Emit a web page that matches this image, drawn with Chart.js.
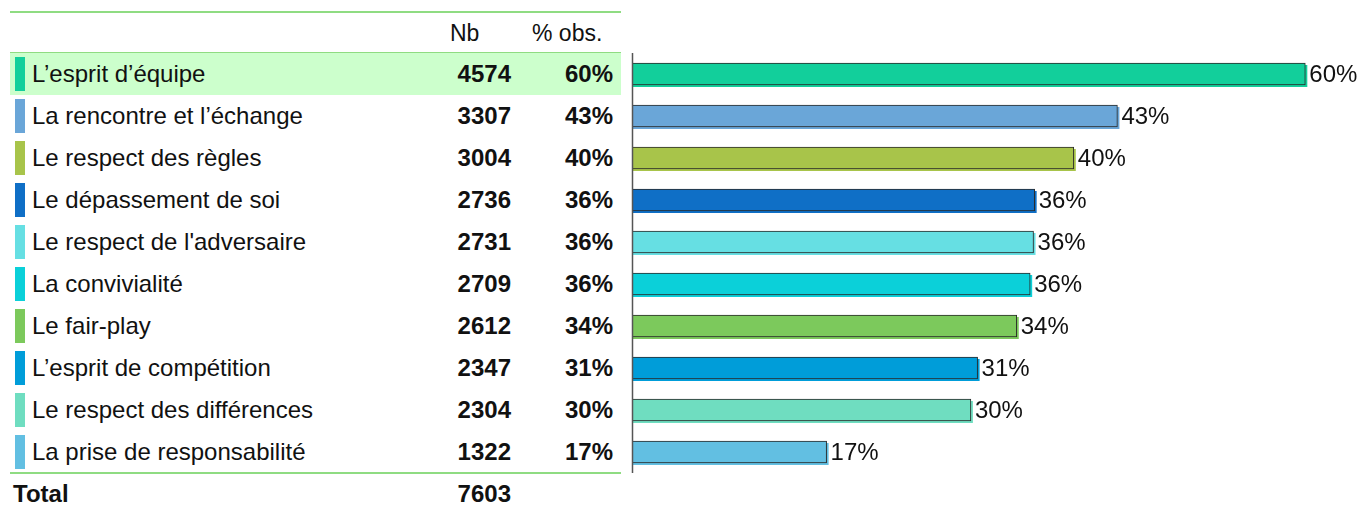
<!DOCTYPE html>
<html>
<head>
<meta charset="utf-8">
<script src="https://cdn.jsdelivr.net/npm/chart.js@4/dist/chart.umd.min.js"></script>
<style>
  html, body { margin: 0; padding: 0; background: #fff; }
  body { width: 1359px; height: 509px; position: relative; overflow: hidden;
         font-family: 'Liberation Sans', Arial, sans-serif; color: #111; }
  #chart { position: absolute; left: 0; top: 0; }
  .hline { position: absolute; left: 10px; width: 611px; height: 0; border-top: 2px solid #8fdc82; }
  .row { position: absolute; left: 10px; width: 611px; height: 42px; line-height: 42px; font-size: 24px; }
  .row.hl { background: #ccffcc; }
  .sw { position: absolute; left: 5px; top: 4px; width: 10px; height: 34px; }
  .lab { position: absolute; left: 22px; white-space: nowrap; }
  .nb { position: absolute; right: 110px; font-weight: bold; }
  .pc { position: absolute; right: 8px; font-weight: bold; }
  .head { position: absolute; font-size: 23px; top: 20px; line-height: 26px; }
</style>
</head>
<body>
<div class="hline" style="top:11px"></div>
<div class="head" style="left:450px">Nb</div>
<div class="head" style="left:532px">% obs.</div>
<div class="hline" style="top:52px"></div>
<div id="table"></div>
<div class="hline" style="top:472px"></div>
<div class="row" style="top:473px;font-weight:bold"><span style="position:absolute;left:3px">Total</span><span class="nb">7603</span></div>
<canvas id="chart" width="1359" height="509"></canvas>
<script>
// Les valeurs du sport
const categories = [
  'L\u2019esprit d\u2019équipe',
  'La rencontre et l\u2019échange',
  'Le respect des règles',
  'Le dépassement de soi',
  'Le respect de l\'adversaire',
  'La convivialité',
  'Le fair-play',
  'L\u2019esprit de compétition',
  'Le respect des différences',
  'La prise de responsabilité'
];
const counts = [4574, 3307, 3004, 2736, 2731, 2709, 2612, 2347, 2304, 1322];
const percents = [60.2, 43.4, 39.5, 36.0, 35.9, 35.6, 34.4, 30.9, 30.3, 17.4];
const colors = ['#12cf9b', '#6aa6d8', '#a8c44a', '#0f6fc6', '#66dfe3',
                '#0bd0d9', '#7cc95c', '#009dd9', '#6fddc0', '#62bfe2'];
const total = 7603;

const ROW_TOP = 53;
const ROW_H = 42;

// left table
const table = document.getElementById('table');
categories.forEach((c, i) => {
  const row = document.createElement('div');
  row.className = 'row' + (i === 0 ? ' hl' : '');
  row.style.top = (ROW_TOP + i * ROW_H) + 'px';
  row.innerHTML =
    `<span class="sw" style="background:${colors[i]}"></span>` +
    `<span class="lab">${c}</span>` +
    `<span class="nb">${counts[i]}</span>` +
    `<span class="pc">${Math.round(percents[i])}%</span>`;
  table.appendChild(row);
});

// shadow under each bar + axis line + value labels
const barExtras = {
  id: 'barExtras',
  beforeDatasetsDraw(chart) {
    const ctx = chart.ctx;
    const meta = chart.getDatasetMeta(0);
    ctx.save();
    meta.data.forEach((bar, i) => {
      const h = bar.height;
      ctx.fillStyle = colors[i];
      ctx.fillRect(bar.base, bar.y - h / 2 + 2, bar.x - bar.base + 2, h);
    });
    ctx.restore();
  },
  afterDatasetsDraw(chart) {
    const ctx = chart.ctx;
    const area = chart.chartArea;
    const meta = chart.getDatasetMeta(0);
    ctx.save();
    ctx.strokeStyle = '#555';
    ctx.lineWidth = 1.5;
    ctx.beginPath();
    ctx.moveTo(area.left + 0.5, area.top);
    ctx.lineTo(area.left + 0.5, area.bottom);
    ctx.stroke();
    ctx.fillStyle = '#111';
    ctx.font = '24px "Liberation Sans", Arial, sans-serif';
    ctx.textBaseline = 'middle';
    meta.data.forEach((bar, i) => {
      ctx.fillText(Math.round(percents[i]) + '%', bar.x + 4, bar.y + 1);
    });
    ctx.restore();
  }
};

new Chart(document.getElementById('chart'), {
  type: 'bar',
  data: {
    labels: categories,
    datasets: [{
      data: percents,
      backgroundColor: colors,
      borderColor: '#2a2a2a',
      borderWidth: 1,
      borderSkipped: false,
      barThickness: 22
    }]
  },
  options: {
    indexAxis: 'y',
    responsive: false,
    animation: false,
    layout: { padding: { left: 632, top: ROW_TOP, bottom: 509 - ROW_TOP - ROW_H * 10, right: 0 } },
    scales: {
      x: { display: false, min: 0, max: 65 },
      y: { display: false }
    },
    plugins: {
      legend: { display: false },
      tooltip: { enabled: false }
    }
  },
  plugins: [barExtras]
});
</script>
</body>
</html>
